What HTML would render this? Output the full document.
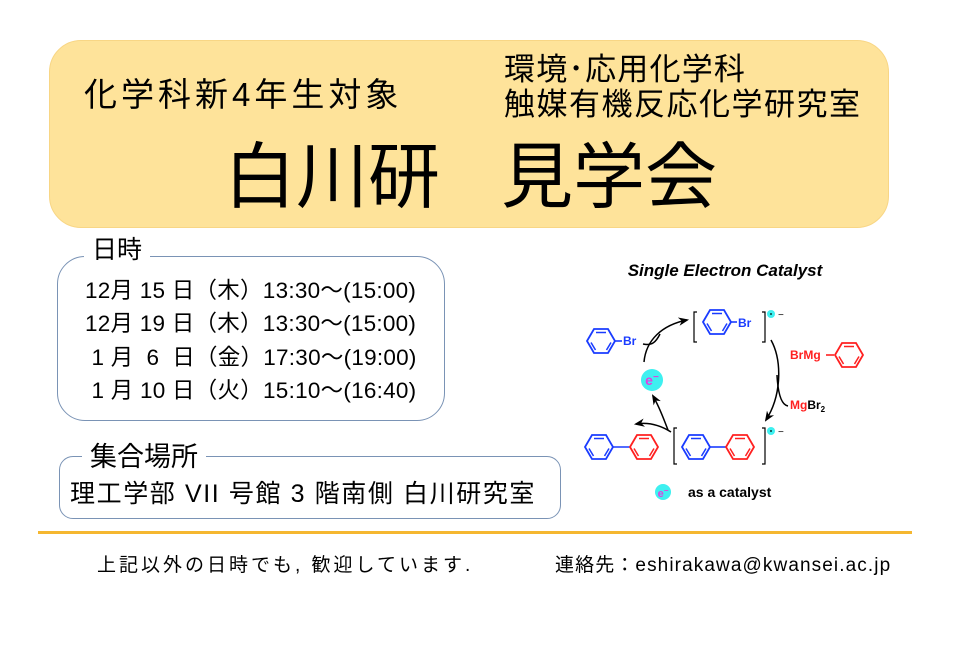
<!DOCTYPE html>
<html><head><meta charset="utf-8"><style>
body{margin:0;width:954px;height:672px;background:#fff;position:relative;overflow:hidden;font-family:"Liberation Sans","Noto Sans CJK JP",sans-serif;color:#000}
.a{position:absolute;white-space:nowrap;line-height:1}
</style></head><body>
<div class="a" style="left:49px;top:40px;width:838px;height:186px;background:#fee39a;border:1px solid #f8d685;border-radius:32px"></div>
<div class="a" style="left:84px;top:78px;font-size:33px;letter-spacing:4px">化学科新4年生対象</div>
<div class="a" style="left:504px;top:54px;font-size:31px;letter-spacing:1.2px">環境･応用化学科</div>
<div class="a" style="left:504px;top:89px;font-size:31px;letter-spacing:1.5px">触媒有機反応化学研究室</div>
<div class="a" style="left:224px;top:142px;font-size:72px">白川研</div>
<div class="a" style="left:501px;top:142px;font-size:72px">見学会</div>

<div class="a" style="left:57px;top:256px;width:386px;height:163px;border:1.5px solid #7a93b5;border-radius:28px"></div>
<div class="a" style="left:84px;top:238px;font-size:25px;background:#fff;padding:0 8px">日時</div>
<div class="a" style="left:85px;top:274px;font-size:22.5px;letter-spacing:0.25px;line-height:33.3px">12月 15 日（木）13:30〜(15:00)<br>12月 19 日（木）13:30〜(15:00)<br>&nbsp;1 月&nbsp; 6&nbsp; 日（金）17:30〜(19:00)<br>&nbsp;1 月 10 日（火）15:10〜(16:40)</div>

<div class="a" style="left:59px;top:456px;width:500px;height:61px;border:1.5px solid #7a93b5;border-radius:14px"></div>
<div class="a" style="left:82px;top:444px;font-size:27px;background:#fff;padding:0 8px">集合場所</div>
<div class="a" style="left:70px;top:482px;font-size:25px;letter-spacing:1.6px">理工学部 VII 号館 3 階南側 白川研究室</div>

<div class="a" style="left:38px;top:531px;width:874px;height:3px;background:#f5b730"></div>
<div class="a" style="left:97px;top:556px;font-size:19px;letter-spacing:3px">上記以外の日時でも, 歓迎しています.</div>
<div class="a" style="left:555px;top:556px;font-size:19px;letter-spacing:1.1px">連絡先：eshirakawa@kwansei.ac.jp</div>

<svg class="a" style="left:0;top:0" width="954" height="672" viewBox="0 0 954 672">
<defs>
<marker id="ar" viewBox="0 0 10 10" refX="8" refY="5" markerWidth="7" markerHeight="7" orient="auto"><path d="M0,1 L10,5 L0,9 L3,5z" fill="#000"/></marker>
<g id="bz"><polygon points="-14,0 -7,-12 7,-12 14,0 7,12 -7,12" fill="none" stroke-width="1.8"/><line x1="-5" y1="-8.5" x2="5" y2="-8.5" stroke-width="1.5"/><line x1="10" y1="1.5" x2="5.5" y2="9" stroke-width="1.5"/><line x1="-5.5" y1="9" x2="-10" y2="1.5" stroke-width="1.5"/></g>
</defs>
<text x="725" y="276" font-size="17" font-weight="bold" font-style="italic" text-anchor="middle" font-family="Liberation Sans">Single Electron Catalyst</text>
<g font-family="Liberation Sans" font-weight="bold" font-size="12">
<use href="#bz" x="601" y="341" stroke="#1a3cff"/>
<line x1="615" y1="341" x2="622" y2="341" stroke="#1a3cff" stroke-width="1.6"/>
<text x="623" y="345" fill="#1a3cff">Br</text>
<path d="M697,312 h-3 v30 h3 M762,312 h3 v30 h-3" fill="none" stroke="#000" stroke-width="1.2"/>
<use href="#bz" x="717" y="322" stroke="#1a3cff"/>
<line x1="731" y1="322" x2="737" y2="322" stroke="#1a3cff" stroke-width="1.6"/>
<text x="738" y="327" fill="#1a3cff">Br</text>
<circle cx="771" cy="314" r="4" fill="#3ef0f0"/><circle cx="771" cy="314" r="0.9" fill="#000"/>
<text x="778" y="318" font-weight="normal" font-size="10">−</text>
<text x="790" y="359" fill="#ff2020">BrMg</text>
<line x1="826" y1="355" x2="834" y2="355" stroke="#ff2020" stroke-width="1.6"/>
<use href="#bz" x="849" y="355" stroke="#ff2020"/>
<text x="790" y="409" fill="#ff2020">Mg<tspan fill="#000">Br</tspan><tspan fill="#000" font-size="8" dy="3">2</tspan></text>
<path d="M677,428 h-3 v36 h3 M762,428 h3 v36 h-3" fill="none" stroke="#000" stroke-width="1.2"/>
<use href="#bz" x="696" y="447" stroke="#1a3cff"/>
<line x1="710" y1="447" x2="726" y2="447" stroke="#1a3cff" stroke-width="1.6"/>
<use href="#bz" x="740" y="447" stroke="#ff2020"/>
<circle cx="771" cy="431" r="4" fill="#3ef0f0"/><circle cx="771" cy="431" r="0.9" fill="#000"/>
<text x="778" y="435" font-weight="normal" font-size="10">−</text>
<use href="#bz" x="599" y="447" stroke="#1a3cff"/>
<line x1="613" y1="447" x2="630" y2="447" stroke="#1a3cff" stroke-width="1.6"/>
<use href="#bz" x="644" y="447" stroke="#ff2020"/>
<circle cx="652" cy="380" r="11" fill="#3ef0f0"/>
<text x="652" y="385" fill="#e040e0" font-size="14" text-anchor="middle">e<tspan font-size="10" dy="-5">−</tspan></text>
<circle cx="663" cy="492" r="8" fill="#3ef0f0"/>
<text x="663" y="497" fill="#e040e0" font-size="11" text-anchor="middle">e<tspan font-size="8" dy="-4">−</tspan></text>
<text x="688" y="497" font-size="14">as a catalyst</text>
</g>
<g fill="none" stroke="#000" stroke-width="1.5">
<path d="M644,362 C646,340 662,325 687,320" marker-end="url(#ar)"/>
<path d="M643,344 C652,346 656,342 660,334"/>
<path d="M771,340 C782,360 782,395 766,420" marker-end="url(#ar)"/>
<path d="M777,375 C778,395 782,405 788,406"/>
<path d="M671,432 C660,425 648,422 636,424" marker-end="url(#ar)"/>
<path d="M668,430 C664,420 660,408 653,396" marker-end="url(#ar)"/>
</g>
</svg>
</body></html>
